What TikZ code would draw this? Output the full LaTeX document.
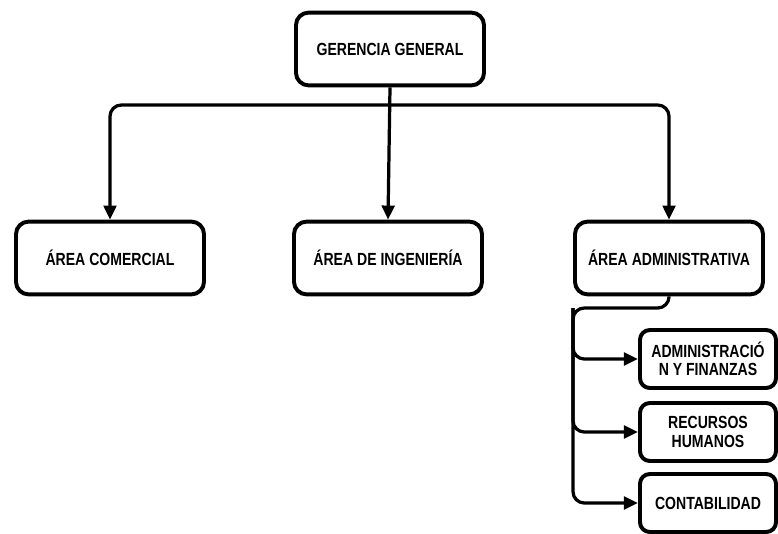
\documentclass[tikz,border=0pt]{standalone}
\usepackage{fontspec}
\setmainfont{Liberation Sans}[FakeStretch=0.8]
\usetikzlibrary{positioning,calc,arrows.meta}

\begin{document}
\begin{tikzpicture}[
  x=0.025cm, y=-0.025cm,
  font=\bfseries\fontsize{12.5}{13}\selectfont,
  areabox/.style={
    rectangle, rounded corners=9pt,
    draw=black, line width=2.8pt,
    align=center,
    minimum width=4.7cm, minimum height=1.82cm,
    inner sep=3pt,
  },
  subbox/.style={
    areabox,
    minimum width=3.4cm, minimum height=1.45cm,
    rounded corners=7pt,
  },
  conn/.style={
    line width=2.3pt, rounded corners=8pt,
    -{Triangle[length=10pt, width=9pt]},
  },
]
\useasboundingbox (0,0) rectangle (778,534);

% ----- top level -----
\node[areabox] (G) at (390,49) {GERENCIA GENERAL};

% ----- three areas -----
\node[areabox] (C) at (110,258) {ÁREA COMERCIAL};
\node[areabox] (I) at (388,258) {ÁREA DE INGENIERÍA};
\node[areabox] (A) at (669,258) {ÁREA ADMINISTRATIVA};

% ----- departments under administration -----
\node[subbox] (S1) at (708,359) {ADMINISTRACIÓ\\N Y FINANZAS};
\node[subbox] (S2) at (708,432) {RECURSOS\\HUMANOS};
\node[subbox] (S3) at (708,503) {CONTABILIDAD};

% ----- connectors -----
\coordinate (split) at (389,105);
\draw[conn] (G.south) -- (I.north);
\draw[conn] (split) -| (C.north);
\draw[conn] (split) -| (A.north);

\coordinate (trunk) at (573,308);
\draw[conn] (A.south) |- (trunk) |- (S3.west);
\draw[conn] (trunk) |- (S1.west);
\draw[conn] (trunk) |- (S2.west);

\end{tikzpicture}
\end{document}
